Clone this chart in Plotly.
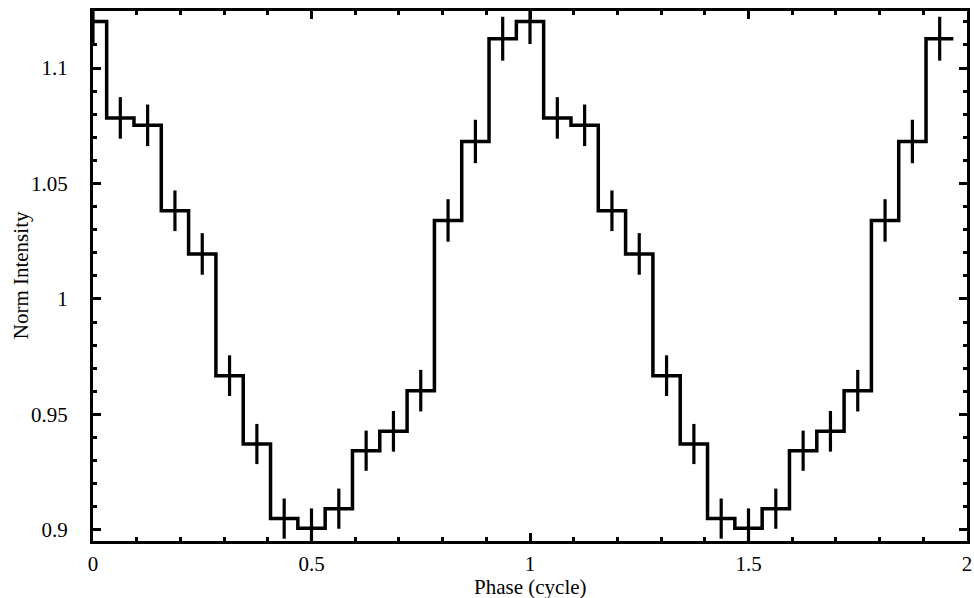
import numpy as np
import plotly.graph_objects as go

# Folded light curve: 16 phase bins per cycle, shown over two cycles
n_bins = 16
phase = np.arange(2 * n_bins) / n_bins  # bin centres 0 ... 1.9375

profile = [1.1202, 1.0784, 1.0752, 1.0382, 1.0195, 0.9668, 0.9372, 0.9049,
           0.9007, 0.9092, 0.9343, 0.9427, 0.9603, 1.0340, 1.0682, 1.1127]
profile_err = [0.0098, 0.0090, 0.0090, 0.0088, 0.0090, 0.0088, 0.0087, 0.0087,
               0.0086, 0.0087, 0.0087, 0.0088, 0.0090, 0.0092, 0.0094, 0.0095]

intensity = profile + profile
intensity_err = profile_err + profile_err

x_ticks = [0, 0.5, 1, 1.5, 2]
x_labels = ["0", "0.5", "1", "1.5", "2"]
y_ticks = [0.9, 0.95, 1.0, 1.05, 1.1]
y_labels = ["0.9", "0.95", "1", "1.05", "1.1"]
x_title = "Phase (cycle)"
y_title = "Norm Intensity"

# histogram step outline from bin edges
w = phase[1] - phase[0]
x_step = [max(c - w / 2, 0) for c in phase] + [phase[-1] + w / 2]
y_step = list(intensity) + [intensity[-1]]

FONT = "Liberation Serif"

fig = go.Figure()
fig.add_trace(go.Scatter(
    x=x_step, y=y_step, mode="lines", line_shape="hv",
    line=dict(color="black", width=3.5), hoverinfo="skip", showlegend=False,
))
fig.add_trace(go.Scatter(
    x=phase, y=intensity, mode="markers",
    marker=dict(size=1, color="rgba(0,0,0,0)"),
    error_y=dict(type="data", array=intensity_err, width=0, thickness=3.2, color="black"),
    showlegend=False,
))

axis_common = dict(
    showline=True, linecolor="black", linewidth=3, mirror="ticks",
    ticks="inside", tickcolor="black", tickwidth=3,
    showgrid=False, zeroline=False, automargin=False,
    tickfont=dict(family=FONT, size=21, color="black"),
)

fig.update_xaxes(
    range=[0, 2], tickvals=x_ticks, ticktext=x_labels, ticklen=8,
    minor=dict(dtick=0.1, ticks="inside", ticklen=4, tickwidth=3, tickcolor="black", showgrid=False),
    ticklabelstandoff=2,
    **axis_common,
)
fig.update_yaxes(
    range=[0.8952, 1.1247], tickvals=y_ticks, ticktext=y_labels, ticklen=8,
    minor=dict(dtick=0.01, ticks="inside", ticklen=4, tickwidth=3, tickcolor="black", showgrid=False),
    ticklabelstandoff=18,
    **axis_common,
)

fig.add_annotation(
    text=x_title, xref="paper", yref="paper", x=0.5, y=-0.086,
    xanchor="center", yanchor="middle", showarrow=False,
    font=dict(family=FONT, size=21, color="black"),
)
fig.add_annotation(
    text=y_title, xref="paper", yref="paper", x=-0.082, y=0.502,
    xanchor="center", yanchor="middle", showarrow=False, textangle=-90,
    font=dict(family=FONT, size=21, color="black"),
)

fig.update_layout(
    width=974, height=598,
    margin=dict(l=93, r=7, t=11, b=57),
    paper_bgcolor="white", plot_bgcolor="white",
    font=dict(family=FONT, color="black"),
)

fig.write_html("out.html")
